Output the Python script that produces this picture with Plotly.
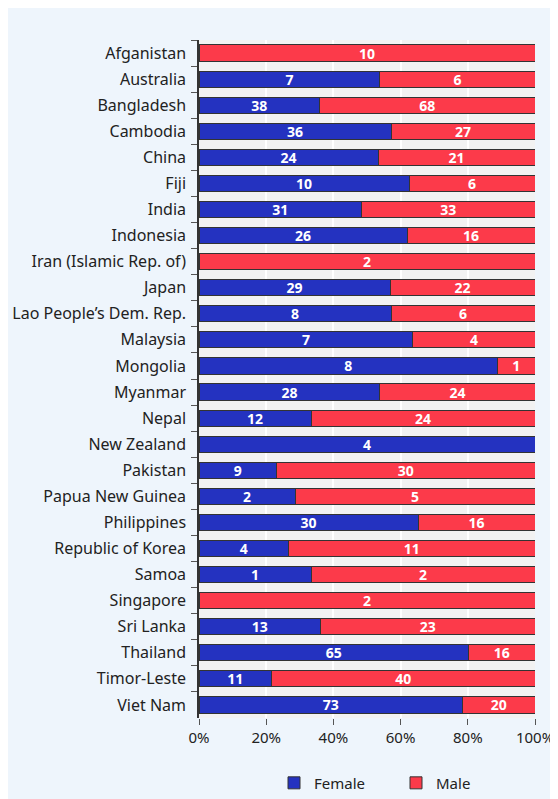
import plotly.graph_objects as go

countries = ["Afganistan", "Australia", "Bangladesh", "Cambodia", "China", "Fiji", "India",
             "Indonesia", "Iran (Islamic Rep. of)", "Japan", "Lao People\u2019s Dem. Rep.",
             "Malaysia", "Mongolia", "Myanmar", "Nepal", "New Zealand", "Pakistan",
             "Papua New Guinea", "Philippines", "Republic of Korea", "Samoa", "Singapore",
             "Sri Lanka", "Thailand", "Timor-Leste", "Viet Nam"]
female = [0, 7, 38, 36, 24, 10, 31, 26, 0, 29, 8, 7, 8, 28, 12, 4, 9, 2, 30, 4, 1, 0, 13, 65, 11, 73]
male = [10, 6, 68, 27, 21, 6, 33, 16, 2, 22, 6, 4, 1, 24, 24, 0, 30, 5, 16, 11, 2, 2, 23, 16, 40, 20]
x_ticks = [0, 20, 40, 60, 80, 100]
x_tick_labels = ["0%", "20%", "40%", "60%", "80%", "100%"]

FEMALE_C = "#2432C0"
MALE_C = "#FC3A4A"
FONT = "Noto Sans"

def labels(vals):
    return [str(v) if v else "" for v in vals]

fig = go.Figure()
for name, vals, col in [("Female", female, FEMALE_C), ("Male", male, MALE_C)]:
    fig.add_trace(go.Bar(
        y=countries, x=[v if v else None for v in vals], name=name, orientation="h",
        marker=dict(color=col, line=dict(color="#333333", width=1)),
        text=labels(vals), textposition="inside", insidetextanchor="middle", textangle=0,
        textfont=dict(color="white", size=14, family=FONT, weight="bold"),
        constraintext="none", width=0.62, hoverinfo="x+y+name",
    ))

fig.update_layout(
    barmode="stack", barnorm="percent",
    width=558, height=799,
    margin=dict(l=191, r=31, t=32, b=89, autoexpand=False),
    paper_bgcolor="#EEF5FC", plot_bgcolor="#F2F2F2",
    font=dict(family=FONT, size=16, color="#222222"),
    legend=dict(orientation="h", x=(266 - 191) / 336, xanchor="left", y=-0.096, yanchor="middle",
                font=dict(size=15, color="#222222"), traceorder="normal",
                itemwidth=30, entrywidth=77, entrywidthmode="pixels",
                bgcolor="rgba(0,0,0,0)"),
    xaxis=dict(range=[0, 100], tickvals=x_ticks, ticktext=x_tick_labels,
               tickfont=dict(size=15),
               showgrid=True, gridcolor="white", gridwidth=1.5,
               ticks="outside", ticklen=6, tickcolor="#555555",
               showline=False, zeroline=False, fixedrange=True, automargin=False),
    yaxis=dict(autorange="reversed", showline=True, linecolor="#333333", linewidth=1.5,
               ticks="outside", ticklen=6, tickcolor="#555555", tickson="boundaries",
               tickfont=dict(size=16),
               showgrid=False, ticklabelstandoff=8, fixedrange=True, automargin=False),
)

fig.write_html("out.html")
